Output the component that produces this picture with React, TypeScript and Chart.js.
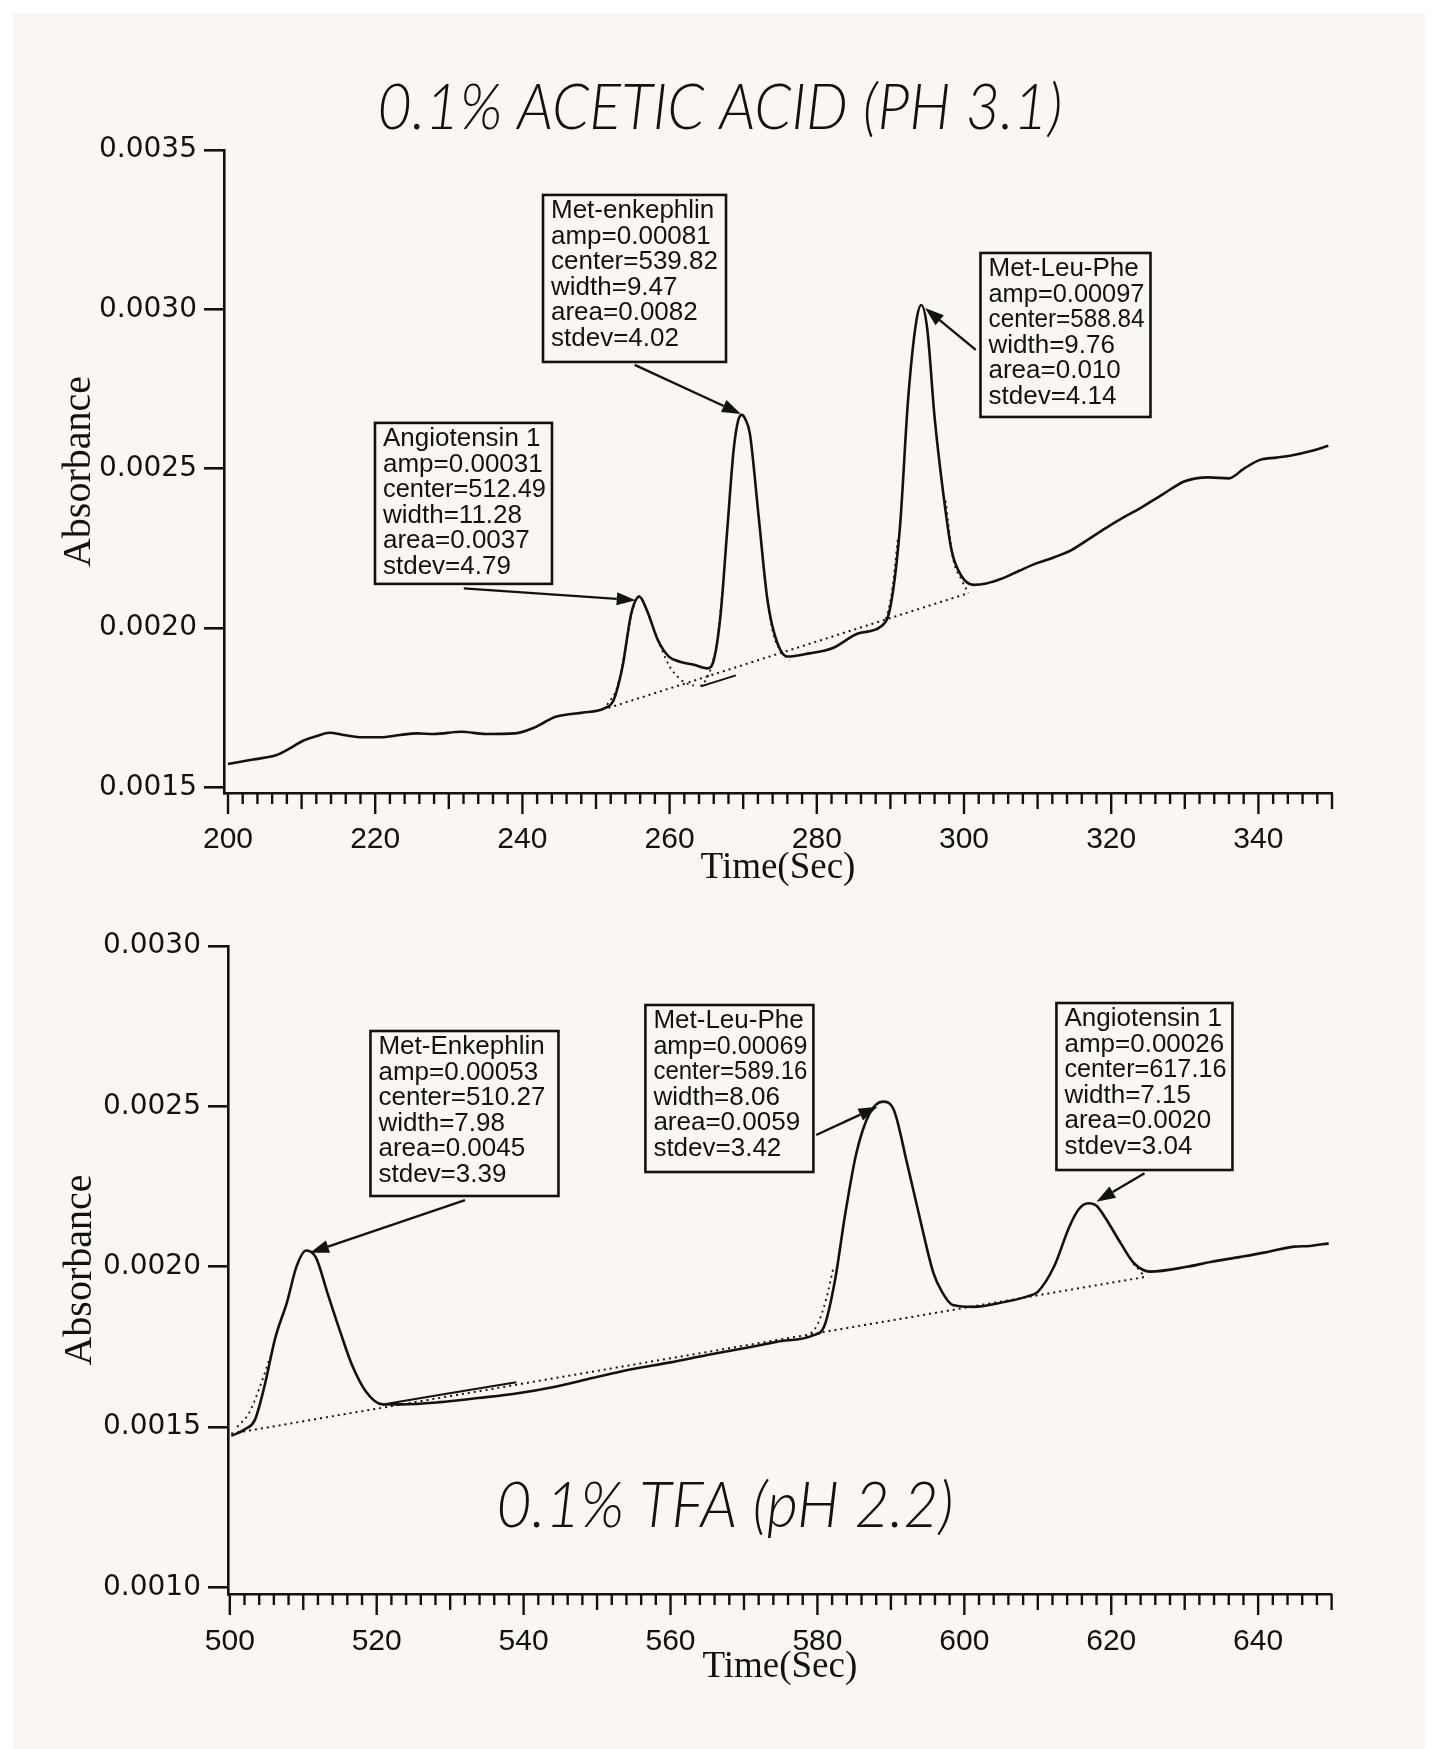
import React, { useEffect, useRef } from "react";
import { Chart, registerables } from "chart.js";

Chart.register(...registerables);

// ---------------- TOP PANEL : 0.1% ACETIC ACID (PH 3.1) ----------------
const TOP_TITLE = "0.1% ACETIC ACID (PH 3.1)";
const TOP_X_LABELS = [200, 220, 240, 260, 280, 300, 320, 340];
const TOP_Y_TICKS = [0.0015, 0.002, 0.0025, 0.003, 0.0035];

// measured trace [time (s), absorbance]
const TOP_TRACE: [number, number][] = [
  [200.0, 0.001574], [203.4, 0.001588], [206.6, 0.001602], [208.4, 0.001623], [210.2, 0.001647],
  [212.0, 0.001661], [213.8, 0.001672], [215.7, 0.001665], [217.9, 0.001658], [220.7, 0.001658],
  [223.4, 0.001665], [225.7, 0.00167], [228.0, 0.001668], [231.7, 0.001675], [235.0, 0.001668],
  [239.0, 0.00167], [241.4, 0.001686], [243.0, 0.001705], [244.5, 0.001722], [246.3, 0.00173],
  [248.1, 0.001735], [251.2, 0.001749], [252.4, 0.001775], [253.6, 0.001879], [254.8, 0.002047],
  [255.9, 0.002099], [256.9, 0.002057], [258.4, 0.001963], [259.9, 0.001911], [261.4, 0.001895],
  [263.3, 0.001885], [265.1, 0.001874], [266.0, 0.0019], [266.9, 0.002036], [267.8, 0.002298],
  [268.7, 0.002559], [269.3, 0.00265], [269.8, 0.002669], [270.3, 0.002655], [270.9, 0.002611],
  [272.1, 0.00235], [273.3, 0.002088], [274.5, 0.001963], [276.0, 0.001911], [279.0, 0.001921],
  [282.1, 0.001937], [285.7, 0.001984], [288.7, 0.002005], [290.0, 0.002067], [291.3, 0.002318],
  [292.4, 0.002716], [293.5, 0.00296], [294.2, 0.003014], [295.0, 0.00294], [296.0, 0.002663],
  [297.2, 0.00242], [298.3, 0.002245], [299.7, 0.002162], [301.3, 0.002136], [303.0, 0.00214],
  [305.3, 0.002157], [307.5, 0.00218], [309.9, 0.002204], [312.2, 0.002222], [314.6, 0.002245],
  [317.0, 0.00228], [319.2, 0.002313], [321.5, 0.002345], [323.9, 0.002376], [327.0, 0.00242],
  [329.9, 0.00246], [331.5, 0.00247], [333.2, 0.002473], [336.0, 0.00247], [338.0, 0.0025],
  [340.2, 0.002528], [342.5, 0.002535], [344.8, 0.002543], [347.0, 0.002555], [349.5, 0.002572],
];
// dotted fitted baseline
const TOP_BASELINE: [number, number][] = [[251.7, 0.00175], [300.6, 0.00211]];
// short solid baseline piece
const TOP_BASE_SOLID: [number, number][] = [[264.3, 0.001818], [269.0, 0.001852]];
// dotted gaussian-fit parts that separate from the trace
const TOP_FIT_ANG: [number, number][] = [
  [251.5, 0.00176], [252.8, 0.00181], [253.8, 0.00191], [254.8, 0.00204], [255.8, 0.0021],
  [257.0, 0.00205], [258.0, 0.00199], [259.0, 0.00193], [260.0, 0.00188], [261.0, 0.00185],
  [262.0, 0.00183], [263.3, 0.00182],
];
const TOP_FIT_ENK_L: [number, number][] = [[264.2, 0.001817], [265.0, 0.00184], [265.7, 0.00188], [266.5, 0.00197], [267.2, 0.00212]];
const TOP_FIT_ENK_R: [number, number][] = [[273.3, 0.00209], [274.0, 0.00199], [274.8, 0.00194], [275.5, 0.00192], [276.3, 0.0019]];
const TOP_FIT_MLP_L: [number, number][] = [[288.4, 0.002], [289.4, 0.00203], [290.3, 0.00213], [291.0, 0.00228]];
const TOP_FIT_MLP_R: [number, number][] = [[297.5, 0.0024], [298.5, 0.00222], [299.7, 0.00215], [300.6, 0.00211]];

const TOP_NOTE_ENK = ["Met-enkephlin", "amp=0.00081", "center=539.82", "width=9.47", "area=0.0082", "stdev=4.02"];
const TOP_NOTE_MLP = ["Met-Leu-Phe", "amp=0.00097", "center=588.84", "width=9.76", "area=0.010", "stdev=4.14"];
const TOP_NOTE_ANG = ["Angiotensin 1", "amp=0.00031", "center=512.49", "width=11.28", "area=0.0037", "stdev=4.79"];

// ---------------- BOTTOM PANEL : 0.1% TFA (pH 2.2) ----------------
const BOT_TITLE = "0.1% TFA (pH 2.2)";
const BOT_X_LABELS = [500, 520, 540, 560, 580, 600, 620, 640];
const BOT_Y_TICKS = [0.001, 0.0015, 0.002, 0.0025, 0.003];

const BOT_TRACE: [number, number][] = [
  [500.2, 0.001473], [502.1, 0.001494], [503.4, 0.001522], [504.7, 0.001626], [506.2, 0.001779],
  [507.8, 0.001891], [509.1, 0.002002], [510.4, 0.002051], [511.7, 0.00203], [513.3, 0.001918],
  [515.1, 0.001793], [516.6, 0.001696], [518.5, 0.001612], [520.8, 0.001571], [523.4, 0.001571],
  [528.6, 0.001578], [533.8, 0.001591], [539.0, 0.001605], [544.3, 0.001626], [549.5, 0.001654],
  [554.5, 0.00168], [560.0, 0.001702], [565.0, 0.001725], [570.0, 0.001746], [574.4, 0.001766],
  [579.5, 0.001787], [580.9, 0.001813], [582.4, 0.001959], [583.8, 0.002167], [585.3, 0.002354],
  [587.1, 0.002478], [588.9, 0.002515], [590.4, 0.002489], [592.2, 0.002323], [594.0, 0.002146],
  [595.8, 0.00198], [597.0, 0.00192], [598.4, 0.001881], [601.3, 0.001875], [605.6, 0.001891],
  [608.5, 0.001907], [610.0, 0.001922], [612.2, 0.002], [614.3, 0.002125], [615.6, 0.00218],
  [616.9, 0.002198], [618.0, 0.00219], [619.1, 0.002156], [621.3, 0.002073], [623.1, 0.002011],
  [625.3, 0.001985], [630.3, 0.002], [633.5, 0.002015], [637.6, 0.002031], [641.0, 0.002045],
  [644.9, 0.002063], [647.0, 0.002065], [649.6, 0.002073],
];
const BOT_BASELINE: [number, number][] = [[500.2, 0.00148], [625.0, 0.00197]];
const BOT_BASE_SOLID: [number, number][] = [[520.8, 0.001571], [539.0, 0.00164]];
const BOT_FIT_ENK_L: [number, number][] = [[501.0, 0.001501], [502.6, 0.001543], [504.1, 0.001626], [505.5, 0.00172]];
const BOT_FIT_MLP_L: [number, number][] = [[578.5, 0.00178], [580.0, 0.00182], [581.2, 0.0019], [582.2, 0.002]];
const BOT_FIT_ANG_R: [number, number][] = [[623.0, 0.00201], [623.8, 0.00199], [624.5, 0.00197]];

const BOT_NOTE_ENK = ["Met-Enkephlin", "amp=0.00053", "center=510.27", "width=7.98", "area=0.0045", "stdev=3.39"];
const BOT_NOTE_MLP = ["Met-Leu-Phe", "amp=0.00069", "center=589.16", "width=8.06", "area=0.0059", "stdev=3.42"];
const BOT_NOTE_ANG = ["Angiotensin 1", "amp=0.00026", "center=617.16", "width=7.15", "area=0.0020", "stdev=3.04"];

const X_TITLE = "Time(Sec)";
const Y_TITLE = "Absorbance";

// ---------------- styling ----------------
const INK = "#141210";
const PANEL = "#FAF6F2";
const MINOR_STEP = 2;

const toXY = (p: [number, number][]) => p.map(([x, y]) => ({ x, y }));

const minorTicks = {
  id: "minorTicks",
  afterDraw(chart: any, _a: any, opts: any) {
    const xs = chart.scales.x;
    const area = chart.chartArea;
    const ctx = chart.ctx;
    ctx.save();
    ctx.strokeStyle = INK;
    ctx.lineWidth = 2.4;
    for (let v = opts.start; v <= opts.end + 1e-9; v += MINOR_STEP) {
      const rel = Math.round(v - opts.start);
      const len = rel % 20 === 0 ? 21 : rel % 10 === 0 ? 16 : 11;
      const px = xs.getPixelForValue(v);
      ctx.beginPath();
      ctx.moveTo(px, area.bottom);
      ctx.lineTo(px, area.bottom + len);
      ctx.stroke();
    }
    ctx.restore();
  },
};

const peakNotes = {
  id: "peakNotes",
  afterDraw(chart: any, _a: any, opts: any) {
    const { ctx } = chart;
    const xs = chart.scales.x;
    const ys = chart.scales.y;
    ctx.save();
    for (const n of opts.notes) {
      const left = xs.getPixelForValue(n.boxX);
      const top = ys.getPixelForValue(n.boxY);
      const sx = xs.getPixelForValue(n.fromX);
      const sy = ys.getPixelForValue(n.fromY);
      const tx = xs.getPixelForValue(n.toX);
      const ty = ys.getPixelForValue(n.toY);
      const ang = Math.atan2(ty - sy, tx - sx);
      const hl = 19;
      const hw = 6.5;
      const bx = tx - hl * Math.cos(ang);
      const by = ty - hl * Math.sin(ang);
      ctx.strokeStyle = INK;
      ctx.fillStyle = INK;
      ctx.lineWidth = 2.4;
      ctx.beginPath();
      ctx.moveTo(sx, sy);
      ctx.lineTo(bx, by);
      ctx.stroke();
      ctx.beginPath();
      ctx.moveTo(tx, ty);
      ctx.lineTo(bx + hw * Math.sin(ang), by - hw * Math.cos(ang));
      ctx.lineTo(bx - hw * Math.sin(ang), by + hw * Math.cos(ang));
      ctx.closePath();
      ctx.fill();
      ctx.fillStyle = PANEL;
      ctx.fillRect(left, top, n.w, n.h);
      ctx.lineWidth = 2.6;
      ctx.strokeRect(left, top, n.w, n.h);
      ctx.fillStyle = INK;
      ctx.font = "26px 'Liberation Sans', Arial, sans-serif";
      ctx.textBaseline = "middle";
      ctx.textAlign = "left";
      n.lines.forEach((s: string, i: number) => {
        ctx.fillText(s, left + 8, top + 16 + i * 25.5, n.w - 14);
      });
    }
    const t = opts.title;
    ctx.fillStyle = INK;
    ctx.font = `italic 300 ${t.size}px Lato, 'Liberation Sans', sans-serif`;
    ctx.textAlign = "center";
    ctx.textBaseline = "middle";
    ctx.fillText(t.text, t.x, t.y, t.maxWidth);
    ctx.restore();
  },
};

function makeConfig(s: any): any {
  const line = (pts: [number, number][], dashed: boolean, width: number) => ({
    data: toXY(pts),
    borderColor: INK,
    borderWidth: width,
    borderDash: dashed ? [2, 4] : [],
    pointRadius: 0,
    fill: false,
    cubicInterpolationMode: "monotone",
  });
  return {
    type: "line",
    data: {
      datasets: [
        line(s.trace, false, 2.6),
        line(s.baseline, true, 2),
        ...s.fits.map((f: [number, number][]) => line(f, true, 1.8)),
        ...s.solid.map((f: [number, number][]) => line(f, false, 2)),
      ],
    },
    plugins: [minorTicks, peakNotes],
    options: {
      animation: false,
      responsive: false,
      devicePixelRatio: 1,
      layout: { padding: s.pad },
      plugins: {
        legend: { display: false },
        tooltip: { enabled: false },
        minorTicks: { start: s.xLabels[0], end: s.xMax },
        peakNotes: { notes: s.notes, title: s.title },
      },
      scales: {
        x: {
          type: "linear",
          min: s.xMin,
          max: s.xMax,
          afterBuildTicks: (sc: any) => {
            sc.ticks = s.xLabels.map((v: number) => ({ value: v }));
          },
          afterFit: (sc: any) => {
            sc.height = s.xHeight;
          },
          ticks: {
            autoSkip: false,
            maxRotation: 0,
            padding: s.xTickPad,
            color: INK,
            font: { family: "'Liberation Sans', Arial, sans-serif", size: 30 },
            callback: (v: any) => String(v),
          },
          grid: { display: true, drawOnChartArea: false, drawTicks: true, tickLength: 21, color: "rgba(0,0,0,0)" },
          border: { display: true, color: INK, width: 2.6 },
          title: {
            display: true,
            text: X_TITLE,
            color: INK,
            font: { family: "'Liberation Serif', 'Times New Roman', serif", size: 37 },
            padding: { top: 0, bottom: s.xTitlePad },
          },
        },
        y: {
          type: "linear",
          min: s.yMin,
          max: s.yMax,
          afterBuildTicks: (sc: any) => {
            sc.ticks = s.yTicks.map((v: number) => ({ value: v }));
          },
          afterFit: (sc: any) => {
            sc.width = s.yWidth;
          },
          ticks: {
            padding: s.yTickPad,
            color: INK,
            font: { family: "'DejaVu Sans', sans-serif", size: 28 },
            callback: (v: any) => Number(v).toFixed(4),
          },
          grid: { display: true, drawOnChartArea: false, drawTicks: true, tickLength: 20, color: INK, lineWidth: 2.6 },
          border: { display: true, color: INK, width: 2.6 },
          title: {
            display: true,
            text: Y_TITLE,
            color: INK,
            font: { family: "'Liberation Serif', 'Times New Roman', serif", size: 40 },
            padding: { top: s.yTitlePad, bottom: 0 },
          },
        },
      },
    },
  };
}

const TOP_SPEC = {
  trace: TOP_TRACE,
  baseline: TOP_BASELINE,
  fits: [TOP_FIT_ANG, TOP_FIT_ENK_L, TOP_FIT_ENK_R, TOP_FIT_MLP_L, TOP_FIT_MLP_R],
  solid: [TOP_BASE_SOLID],
  xMin: 199.457,
  xMax: 350,
  xLabels: TOP_X_LABELS,
  yMin: 0.001483,
  yMax: 0.0035,
  yTicks: TOP_Y_TICKS,
  pad: { top: 150, right: 105, bottom: 1, left: 0 },
  yWidth: 224,
  yTickPad: 7,
  yTitlePad: 55,
  xHeight: 106,
  xTickPad: 8,
  xTitlePad: 9,
  notes: [
    { lines: TOP_NOTE_ENK, boxX: 242.8, boxY: 0.003359, w: 183, h: 167, fromX: 255.26, fromY: 0.002826, toX: 269.7, toY: 0.002672 },
    { lines: TOP_NOTE_MLP, boxX: 302.24, boxY: 0.003177, w: 170, h: 164, fromX: 301.6, fromY: 0.002873, toX: 294.7, toY: 0.003004 },
    { lines: TOP_NOTE_ANG, boxX: 219.97, boxY: 0.002644, w: 177, h: 161, fromX: 232.04, fromY: 0.002125, toX: 255.4, toY: 0.002088 },
  ],
  title: { text: TOP_TITLE, x: 720, y: 108, size: 64, maxWidth: 685 },
};

const BOT_SPEC = {
  trace: BOT_TRACE,
  baseline: BOT_BASELINE,
  fits: [BOT_FIT_ENK_L, BOT_FIT_MLP_L, BOT_FIT_ANG_R],
  solid: [BOT_BASE_SOLID],
  xMin: 499.755,
  xMax: 650,
  xLabels: BOT_X_LABELS,
  yMin: 0.00098,
  yMax: 0.003,
  yTicks: BOT_Y_TICKS,
  pad: { top: 46, right: 105.4, bottom: 49, left: 0 },
  yWidth: 228,
  yTickPad: 7,
  yTitlePad: 56,
  xHeight: 106,
  xTickPad: 9,
  xTitlePad: 11,
  notes: [
    { lines: BOT_NOTE_ENK, boxX: 519.15, boxY: 0.002735, w: 188, h: 165, fromX: 532.02, fromY: 0.0022081, toX: 510.92, toY: 0.0020438 },
    { lines: BOT_NOTE_MLP, boxX: 556.58, boxY: 0.0028161, w: 168, h: 167, fromX: 579.83, fromY: 0.0024108, toX: 588.18, toY: 0.002499 },
    { lines: BOT_NOTE_ANG, boxX: 612.54, boxY: 0.0028223, w: 176, h: 167, fromX: 624.53, fromY: 0.0022914, toX: 617.98, toY: 0.0022028 },
  ],
  title: { text: BOT_TITLE, x: 725, y: 606, size: 64, maxWidth: 457 },
};

function ChromChart({ spec, top, height }: { spec: any; top: number; height: number }) {
  const ref = useRef<HTMLCanvasElement>(null);
  useEffect(() => {
    if (!ref.current) return;
    const chart = new Chart(ref.current, makeConfig(spec));
    return () => chart.destroy();
  }, [spec]);
  return (
    <canvas
      ref={ref}
      width={1437}
      height={height}
      style={{ position: "absolute", left: 0, top, width: 1437, height, display: "block" }}
    />
  );
}

export default function App() {
  useEffect(() => {
    document.body.style.margin = "0";
    document.body.style.overflow = "hidden";
  }, []);
  return (
    <div style={{ position: "absolute", left: 0, top: 0, width: 1437, height: 1749, background: "#ffffff", overflow: "hidden" }}>
      <div style={{ position: "absolute", left: 13, top: 13, width: 1412, height: 1736, background: PANEL }} />
      <ChromChart spec={TOP_SPEC} top={0} height={900} />
      <ChromChart spec={BOT_SPEC} top={900} height={849} />
    </div>
  );
}
